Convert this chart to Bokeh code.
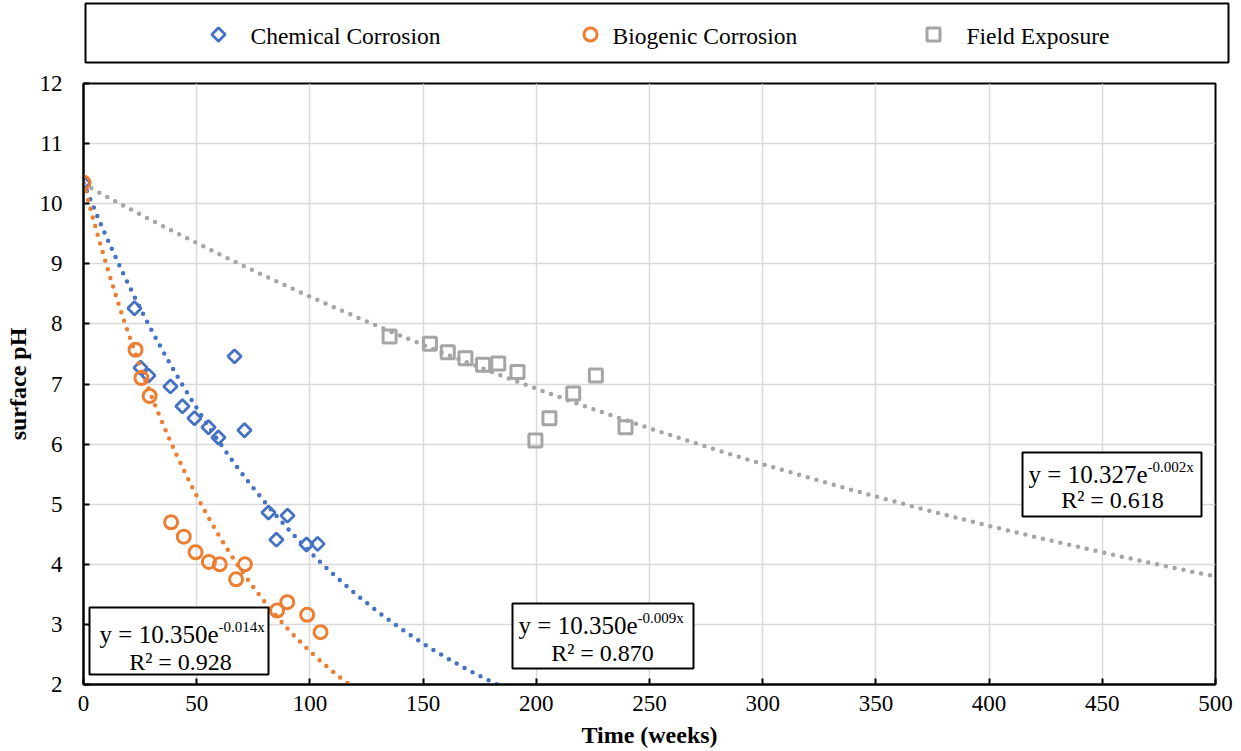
import numpy as np
from bokeh.plotting import figure
from bokeh.models import Range1d, Label, BoxAnnotation, FixedTicker
from bokeh.layouts import column
from bokeh.embed import file_html
from bokeh.resources import INLINE

# ---------------- data ----------------
chem_weeks = [0, 22.5, 25.2, 28.7, 38.4, 43.7, 49.0, 55.2, 59.6, 66.7, 71.1, 81.7, 85.2, 90.1, 98.5, 103.4]
chem_ph = [10.35, 8.26, 7.27, 7.14, 6.96, 6.63, 6.43, 6.28, 6.11, 7.46, 6.23, 4.86, 4.41, 4.81, 4.33, 4.34]

bio_weeks = [0, 23.0, 25.6, 29.2, 38.7, 44.3, 49.5, 55.4, 60.2, 67.4, 71.3, 85.5, 90.0, 98.8, 104.7]
bio_ph = [10.35, 7.57, 7.10, 6.80, 4.70, 4.46, 4.20, 4.04, 4.00, 3.75, 4.00, 3.23, 3.37, 3.16, 2.87]

field_weeks = [135.2, 153.0, 160.9, 168.7, 176.5, 183.2, 191.7, 199.6, 205.8, 216.3, 226.3, 239.4]
field_ph = [7.79, 7.67, 7.53, 7.43, 7.32, 7.34, 7.20, 6.06, 6.43, 6.84, 7.14, 6.28]

# exponential trend lines (coefficients as displayed on the chart): a, b, R²
chem_fit = (10.350, -0.009, 0.870)
bio_fit = (10.350, -0.014, 0.928)
field_fit = (10.327, -0.002, 0.618)

series_names = ["Chemical Corrosion", "Biogenic Corrosion", "Field Exposure"]
colors = ["#4472C4", "#ED7D31", "#A5A5A5"]

x_ticks = list(range(0, 501, 50))
y_ticks = list(range(2, 13))

FONT = "Liberation Serif"

# ---------------- layout helpers (pixel -> data for annotation placement) ----------------
FL, FR, FT, FB = 83, 1215, 83, 684
def dx(px):
    return (px - FL) / ((FR - FL) / 500.0)
def dy(py):
    return 12 - (py - FT) / ((FB - FT) / 10.0)

# ---------------- figures ----------------
TOP_H = 66
top = figure(width=1241, height=TOP_H, toolbar_location=None, output_backend="svg", min_border=0)
p = figure(width=1241, height=751 - TOP_H, x_range=Range1d(0, 500), y_range=Range1d(2, 12),
           toolbar_location=None, output_backend="svg",
           min_border_left=83, min_border_right=26, min_border_top=FT - TOP_H, min_border_bottom=751 - FB)

aligned = True
try:
    top.frame_align = False
    p.frame_align = False
    aligned = False
except Exception:
    aligned = True

if aligned:
    top.x_range = Range1d(FL, FR)
    box_right = FR - 1
else:
    top.x_range = Range1d(0, 1241)
    box_right = 1228
top.y_range = Range1d(TOP_H, 0)
top.axis.visible = False
top.grid.visible = False
top.outline_line_color = None

# ---------------- legend strip ----------------
top.quad(left=[85], right=[box_right], top=[3], bottom=[62], fill_color="white",
         line_color="black", line_width=2)
leg_x = [218, 590, 933]
leg_tx = [250, 612, 966]
LY = 34
top.scatter(x=[leg_x[0]], y=[LY], marker="square", angle=np.pi / 4, size=9.5,
            fill_color=None, line_color=colors[0], line_width=2.8)
top.scatter(x=[leg_x[1]], y=[LY], marker="circle", size=13,
            fill_color=None, line_color=colors[1], line_width=3)
top.scatter(x=[leg_x[2]], y=[LY], marker="square", size=13,
            fill_color=None, line_color=colors[2], line_width=3)
top.text(x=leg_tx, y=[LY + 1] * 3, text=series_names, text_font={"value": FONT},
         text_font_size="23.5px", text_baseline="middle", text_align="left", text_color="black")

# ---------------- main chart ----------------
p.xgrid.grid_line_color = "#D9D9D9"
p.ygrid.grid_line_color = "#D9D9D9"
p.xgrid.grid_line_width = 1.5
p.ygrid.grid_line_width = 1.5
p.outline_line_color = "black"
p.outline_line_width = 2

p.xaxis.ticker = FixedTicker(ticks=x_ticks)
p.yaxis.ticker = FixedTicker(ticks=y_ticks)
for ax in (p.xaxis[0], p.yaxis[0]):
    ax.axis_line_color = "black"
    ax.axis_line_width = 2
    ax.major_tick_in = 6
    ax.major_tick_out = 0
    ax.major_tick_line_color = "black"
    ax.major_tick_line_width = 2
    ax.minor_tick_line_color = None
    ax.major_label_text_font = FONT
    ax.major_label_text_font_size = "23px"
    ax.major_label_text_color = "black"
    ax.axis_label_text_font = FONT
    ax.axis_label_text_font_size = "24px"
    ax.axis_label_text_font_style = "bold"
    ax.axis_label_text_color = "black"

p.xaxis.axis_label = "Time (weeks)"
p.yaxis.axis_label = "surface pH"
p.xaxis.major_label_standoff = 11
p.xaxis.axis_label_standoff = 8
p.yaxis.major_label_standoff = 21
p.yaxis.axis_label_standoff = 6

# markers
p.scatter(x=field_weeks, y=field_ph, marker="square", size=13, fill_color=None,
          line_color=colors[2], line_width=3)
p.scatter(x=chem_weeks, y=chem_ph, marker="square", angle=np.pi / 4, size=9.5, fill_color=None,
          line_color=colors[0], line_width=2.8)
p.scatter(x=bio_weeks, y=bio_ph, marker="circle", size=13, fill_color=None,
          line_color=colors[1], line_width=3)

# trend lines
xs = np.linspace(0, 500, 1001)
for (a, b, r2), c in zip([chem_fit, bio_fit, field_fit], colors):
    ys = a * np.exp(b * xs)
    m = ys >= 1.9
    p.line(xs[m], ys[m], line_color=c, line_width=4.5, line_dash="0 9", line_cap="round")

# equation boxes
boxes = [
    # (fit, left, right, top, bottom, anchor_x, line1_center, center_x, line2_center)  -- pixel layout
    (bio_fit, 89, 268, 607, 674, 218, 634, 180, 661),
    (chem_fit, 512, 693, 603, 668, 637, 625, 602, 652),
    (field_fit, 1022, 1201, 452, 516, 1147, 474, 1112, 499),
]
for fit, l, r, t, bt, ax_, c1, cx, c2 in boxes:
    a, b, r2 = fit
    p.add_layout(BoxAnnotation(left=dx(l), right=dx(r), top=dy(t), bottom=dy(bt),
                               fill_color="white", fill_alpha=1.0,
                               line_color="black", line_alpha=1.0, line_width=2, level="overlay"))
    p.add_layout(Label(x=dx(ax_), y=dy(c1), text=f"y = {a:.3f}e", text_align="right",
                       text_baseline="middle", text_font=FONT, text_font_size="25px",
                       text_color="black", level="overlay"))
    p.add_layout(Label(x=dx(ax_), y=dy(c1 - 8), text=f"{b:.3f}x", text_align="left",
                       text_baseline="middle", text_font=FONT, text_font_size="15px",
                       text_color="black", level="overlay"))
    p.add_layout(Label(x=dx(cx), y=dy(c2), text=f"R² = {r2:.3f}", text_align="center",
                       text_baseline="middle", text_font=FONT, text_font_size="24px",
                       text_color="black", level="overlay"))

layout = column(top, p, spacing=0)
open("out.html", "w").write(file_html(layout, INLINE))
